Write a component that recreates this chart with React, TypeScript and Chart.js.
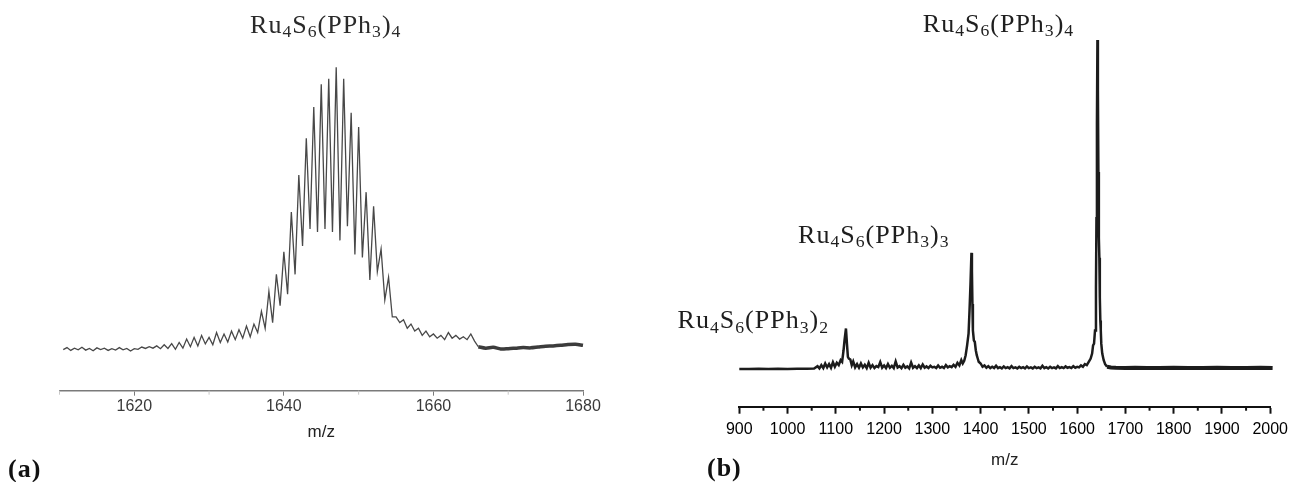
import React, { useEffect, useRef } from 'react';
import { Chart, registerables } from 'chart.js';

Chart.register(...registerables);

// ---------- Panel (a): isotope pattern of Ru4S6(PPh3)4 ----------
const mzA = [
  1610.5, 1611, 1611.5, 1612, 1612.5, 1613, 1613.5, 1614, 1614.5, 1615, 1615.5, 1616, 1616.5, 1617, 1617.5,
  1618, 1618.5, 1619, 1619.5, 1620, 1620.5, 1621, 1621.5, 1622, 1622.5, 1623, 1623.5, 1624, 1624.5, 1625,
  1625.5, 1626, 1626.5, 1627, 1627.5, 1628, 1628.5, 1629, 1629.5, 1630, 1630.5, 1631, 1631.5, 1632, 1632.5,
  1633, 1633.5, 1634, 1634.5, 1635, 1635.5, 1636, 1636.5, 1637, 1637.5, 1638, 1638.5, 1639, 1639.5, 1640,
  1640.5, 1641, 1641.5, 1642, 1642.5, 1643, 1643.5, 1644, 1644.5, 1645, 1645.5, 1646, 1646.5, 1647, 1647.5,
  1648, 1648.5, 1649, 1649.5, 1650, 1650.5, 1651, 1651.5, 1652, 1652.5, 1653, 1653.5, 1654, 1654.5, 1655,
  1655.5, 1656, 1656.5, 1657, 1657.5, 1658, 1658.5, 1659, 1659.5, 1660, 1660.5, 1661, 1661.5, 1662, 1662.5,
  1663, 1663.5, 1664, 1664.5, 1665, 1665.5, 1666,
];
const intA = [
  0.5, 1.2, 0.2, 1.0, 0.4, 1.3, 0.3, 0.9, 0.1, 1.1, 0.5, 1.0, 0.2, 0.8, 0.3,
  1.2, 0.4, 0.9, 0.0, 0.8, 0.6, 1.4, 0.9, 1.5, 1.0, 1.8, 0.8, 2.2, 0.9, 2.6,
  0.6, 3.0, 1.0, 4.2, 1.5, 4.8, 1.8, 5.5, 2.5, 4.8, 2.2, 6.5, 3.0, 6.0, 3.2,
  7.0, 4.0, 7.5, 4.5, 8.8, 5.0, 9.5, 6.5, 14, 8, 21, 10, 27, 16, 35,
  20, 49, 27, 62, 37, 75, 43, 86, 42, 94, 43, 96, 42, 100, 39,
  96, 44, 84, 34, 79, 33, 56, 25, 51, 28, 36, 18, 26, 12, 12,
  10, 11, 8, 9.5, 7, 8, 5.5, 7, 5, 6, 4.5, 5.5, 4, 6.5, 4.5,
  5.5, 4.2, 5, 4, 6, 3.5, 1.5,
];
const mzATail = [1666, 1667, 1668, 1669, 1670, 1671, 1672, 1673, 1674, 1675, 1676, 1677, 1678, 1679, 1680];
const intATail = [1.5, 1.0, 1.3, 0.7, 0.8, 1.0, 1.2, 1.1, 1.4, 1.7, 1.8, 2.0, 2.3, 2.4, 2.0];
const majorTicksA = [1620, 1640, 1660, 1680];
const minorTicksA = [1610, 1630, 1650, 1670];
const labelsA = [{ text: 'Ru4S6(PPh3)4', mz: 1645.6, y: 112.2 }];

// ---------- Panel (b): full spectrum ----------
const mzB = [
  900, 920, 940, 960, 980, 1000, 1020, 1040, 1055, 1062, 1066, 1070, 1074, 1078, 1082, 1086, 1090, 1094, 1098,
  1102, 1106, 1110, 1113, 1116, 1118, 1121, 1123, 1125, 1127, 1130, 1133, 1136, 1140, 1144, 1148, 1152, 1156,
  1160, 1164, 1168, 1172, 1176, 1180, 1184, 1188, 1192, 1196, 1200, 1204, 1208, 1212, 1216, 1220, 1224, 1228,
  1232, 1236, 1240, 1244, 1248, 1252, 1256, 1260, 1264, 1268, 1272, 1276, 1280, 1284, 1288, 1292, 1296, 1300,
  1304, 1308, 1312, 1316, 1320, 1324, 1328, 1332, 1336, 1340, 1344, 1348, 1352, 1356, 1360, 1363, 1366, 1369,
  1372, 1375, 1377, 1379, 1381, 1382, 1383, 1384, 1386, 1388, 1390, 1392, 1394, 1396, 1400, 1404, 1408, 1412,
  1416, 1420, 1424, 1428, 1432, 1436, 1440, 1444, 1448, 1452, 1456, 1460, 1464, 1468, 1472, 1476, 1480, 1484,
  1488, 1492, 1496, 1500, 1504, 1508, 1512, 1516, 1520, 1524, 1528, 1532, 1536, 1540, 1544, 1548, 1552, 1556,
  1560, 1564, 1568, 1572, 1576, 1580, 1584, 1588, 1592, 1596, 1600, 1604, 1608, 1612, 1616, 1620, 1624, 1628,
  1631, 1633, 1635, 1637, 1639, 1640, 1641, 1642, 1643, 1644, 1645, 1646, 1647, 1648, 1649, 1650, 1652, 1655,
  1658, 1662,
];
const intB = [
  0.3, 0.3, 0.4, 0.3, 0.4, 0.3, 0.4, 0.4, 0.5, 1.2, 0.5, 1.5, 0.6, 2.0, 0.8, 1.8, 0.7, 2.4, 1.0,
  2.2, 1.5, 3.0, 2.5, 6.0, 9.0, 12.6, 8.0, 4.0, 3.5, 3.2, 1.5, 2.6, 0.8, 1.8, 0.7, 2.0, 0.8,
  1.6, 0.6, 2.2, 0.7, 1.5, 0.6, 1.2, 0.9, 2.4, 0.7, 1.4, 0.6, 1.8, 0.7, 1.3, 0.6, 2.6, 0.8,
  1.2, 0.6, 1.6, 0.7, 1.1, 0.5, 2.3, 0.7, 1.2, 0.6, 1.4, 0.6, 1.7, 0.7, 1.1, 0.6, 1.3, 0.8,
  1.0, 0.6, 1.4, 0.7, 1.0, 0.6, 1.5, 0.8, 1.2, 0.9, 1.6, 1.0, 2.2, 1.4, 3.0, 2.0, 2.8, 4.5,
  7.5, 11, 18, 26, 35.5, 30, 20, 12, 9, 8.5, 6, 4.5, 3.5, 2.5, 2.0, 1.0, 1.4, 0.7,
  1.2, 0.6, 1.0, 0.6, 1.3, 0.6, 0.9, 0.5, 1.1, 0.6, 0.9, 0.5, 1.2, 0.6, 0.8, 0.5, 1.0, 0.6,
  0.9, 0.5, 1.1, 0.6, 0.8, 0.5, 1.0, 0.6, 0.8, 0.5, 1.3, 0.6, 0.9, 0.5, 1.0, 0.6, 0.8, 0.5,
  1.2, 0.6, 0.9, 0.6, 1.1, 0.7, 0.9, 0.6, 1.2, 0.7, 1.0, 0.8, 1.4, 1.0, 1.8, 1.5, 2.5, 3.5,
  5.0, 7.5, 8.0, 12, 25, 46, 75, 100, 85, 60, 40, 34, 22, 15, 12, 8, 5, 3,
  1.8, 1.0,
];
const mzBTail = [1662, 1670, 1680, 1700, 1720, 1745, 1770, 1800, 1830, 1860, 1890, 1920, 1950, 1980, 2005];
const intBTail = [1.0, 0.8, 0.7, 0.6, 0.7, 0.6, 0.6, 0.7, 0.6, 0.6, 0.7, 0.6, 0.6, 0.7, 0.6];
const majorTicksB = [900, 1000, 1100, 1200, 1300, 1400, 1500, 1600, 1700, 1800, 1900, 2000];
const minorTicksB = [950, 1050, 1150, 1250, 1350, 1450, 1550, 1650, 1750, 1850, 1950];
const labelsB = [
  { text: 'Ru4S6(PPh3)4', mz: 1437, y: 102.4 },
  { text: 'Ru4S6(PPh3)3', mz: 1178.7, y: 38.4 },
  { text: 'Ru4S6(PPh3)2', mz: 929, y: 12.6 },
];

type Lab = { text: string; mz: number; y: number };

function makeFormulaPlugin(labels: Lab[], size: number, color: string) {
  return {
    id: 'formulaLabels',
    afterDatasetsDraw(chart: any) {
      const { ctx, scales } = chart;
      const subSize = size * 0.68;
      const family = '"Liberation Serif", "Times New Roman", serif';
      ctx.save();
      ctx.fillStyle = color;
      ctx.textBaseline = 'alphabetic';
      ctx.textAlign = 'left';
      try { (ctx as any).letterSpacing = '1px'; } catch (e) {}
      for (const lab of labels) {
        const parts: { t: string; sub: boolean }[] = [];
        for (const ch of lab.text) {
          const sub = /[0-9]/.test(ch);
          const last = parts[parts.length - 1];
          if (last && last.sub === sub) last.t += ch;
          else parts.push({ t: ch, sub });
        }
        let w = 0;
        for (const p of parts) {
          ctx.font = `${p.sub ? subSize : size}px ${family}`;
          w += ctx.measureText(p.t).width;
        }
        let x = scales.x.getPixelForValue(lab.mz) - w / 2;
        const y = scales.y.getPixelForValue(lab.y);
        for (const p of parts) {
          ctx.font = `${p.sub ? subSize : size}px ${family}`;
          ctx.fillText(p.t, x, p.sub ? y + size * 0.16 : y);
          x += ctx.measureText(p.t).width;
        }
      }
      ctx.restore();
    },
  };
}

function makeMinorTickPlugin(values: number[], length: number, color: string, width: number) {
  return {
    id: 'minorTicks',
    afterDraw(chart: any) {
      const sx = chart.scales.x;
      const ctx = chart.ctx;
      const y0 = chart.chartArea.bottom;
      ctx.save();
      ctx.strokeStyle = color;
      ctx.lineWidth = width;
      for (const v of values) {
        const px = sx.getPixelForValue(v);
        ctx.beginPath();
        ctx.moveTo(px, y0);
        ctx.lineTo(px, y0 + length);
        ctx.stroke();
      }
      ctx.restore();
    },
  };
}

const toPts = (xs: number[], ys: number[]) => xs.map((x, i) => ({ x, y: ys[i] }));

export default function App() {
  const refA = useRef<HTMLCanvasElement | null>(null);
  const refB = useRef<HTMLCanvasElement | null>(null);

  useEffect(() => {
    const sans = '"Liberation Sans", Arial, sans-serif';
    const chartA = new Chart(refA.current as HTMLCanvasElement, {
      type: 'line',
      data: {
        datasets: [
          { data: toPts(mzA, intA), borderColor: '#484848', borderWidth: 1.3, pointRadius: 0, tension: 0, clip: false as any },
          { data: toPts(mzATail, intATail), borderColor: '#3c3c3c', borderWidth: 3.5, pointRadius: 0, tension: 0.3, clip: false as any },
        ],
      },
      options: {
        animation: false,
        responsive: false,
        events: [],
        layout: { padding: { left: 59.5, right: 57, top: 20, bottom: 31.3 } },
        plugins: { legend: { display: false }, tooltip: { enabled: false }, title: { display: false } },
        scales: {
          x: {
            type: 'linear',
            min: 1610,
            max: 1680,
            afterBuildTicks: (s: any) => { s.ticks = majorTicksA.map((v) => ({ value: v })); },
            afterFit: (s: any) => { s.height = 60; },
            border: { display: true, color: '#7a7a7a', width: 1.5 },
            grid: { display: true, drawOnChartArea: false, drawTicks: true, tickLength: 5, tickColor: '#7a7a7a', tickWidth: 1 },
            ticks: { padding: 1, color: '#3a3a3a', font: { family: sans, size: 16 }, maxRotation: 0, minRotation: 0, autoSkip: false, callback: (v: any) => String(v) },
            title: { display: true, text: 'm/z', color: '#222', font: { family: sans, size: 17 }, padding: { top: 0, bottom: 8 } },
          },
          y: { display: false, min: -14, max: 116.7 },
        },
      },
      plugins: [makeFormulaPlugin(labelsA, 26, '#2a2a2a'), makeMinorTickPlugin(minorTicksA, 4, '#c8c8c8', 1)],
    } as any);

    const chartB = new Chart(refB.current as HTMLCanvasElement, {
      type: 'line',
      data: {
        datasets: [
          { data: toPts(mzB, intB), borderColor: '#1c1c1c', borderWidth: 2.5, pointRadius: 0, tension: 0, clip: false as any },
          { data: toPts(mzBTail, intBTail), borderColor: '#1c1c1c', borderWidth: 4, pointRadius: 0, tension: 0, clip: false as any },
        ],
      },
      options: {
        animation: false,
        responsive: false,
        events: [],
        layout: { padding: { left: 89.3, right: 20.7, top: 10, bottom: 5.3 } },
        plugins: { legend: { display: false }, tooltip: { enabled: false }, title: { display: false } },
        scales: {
          x: {
            type: 'linear',
            min: 900,
            max: 2000,
            afterBuildTicks: (s: any) => { s.ticks = majorTicksB.map((v) => ({ value: v })); },
            afterFit: (s: any) => { s.height = 70; },
            border: { display: true, color: '#111', width: 2 },
            grid: { display: true, drawOnChartArea: false, drawTicks: true, tickLength: 7, tickColor: '#111', tickWidth: 2 },
            ticks: { padding: 6, color: '#000', font: { family: sans, size: 16 }, maxRotation: 0, minRotation: 0, autoSkip: false, callback: (v: any) => String(v) },
            title: { display: true, text: 'm/z', color: '#222', font: { family: sans, size: 17 }, padding: { top: 0, bottom: 6 } },
          },
          y: { display: false, min: -11.1, max: 109.1 },
        },
      },
      plugins: [makeFormulaPlugin(labelsB, 26, '#1e1e1e'), makeMinorTickPlugin(minorTicksB, 4, '#111', 2)],
    } as any);

    return () => {
      chartA.destroy();
      chartB.destroy();
    };
  }, []);

  const panelLabel: React.CSSProperties = {
    position: 'absolute',
    fontFamily: '"Liberation Serif", "Times New Roman", serif',
    fontWeight: 'bold',
    fontSize: 26,
    lineHeight: '26px',
    color: '#111',
    letterSpacing: '1px',
  };

  return (
    <div style={{ position: 'fixed', left: 0, top: 0, width: 1294, height: 482, background: '#fff', overflow: 'hidden' }}>
      <canvas ref={refA} width={640} height={482} style={{ position: 'absolute', left: 0, top: 0, width: 640, height: 482 }} />
      <canvas ref={refB} width={644} height={482} style={{ position: 'absolute', left: 650, top: 0, width: 644, height: 482 }} />
      <div style={{ ...panelLabel, left: 8, top: 456 }}>(a)</div>
      <div style={{ ...panelLabel, left: 707, top: 455 }}>(b)</div>
    </div>
  );
}
